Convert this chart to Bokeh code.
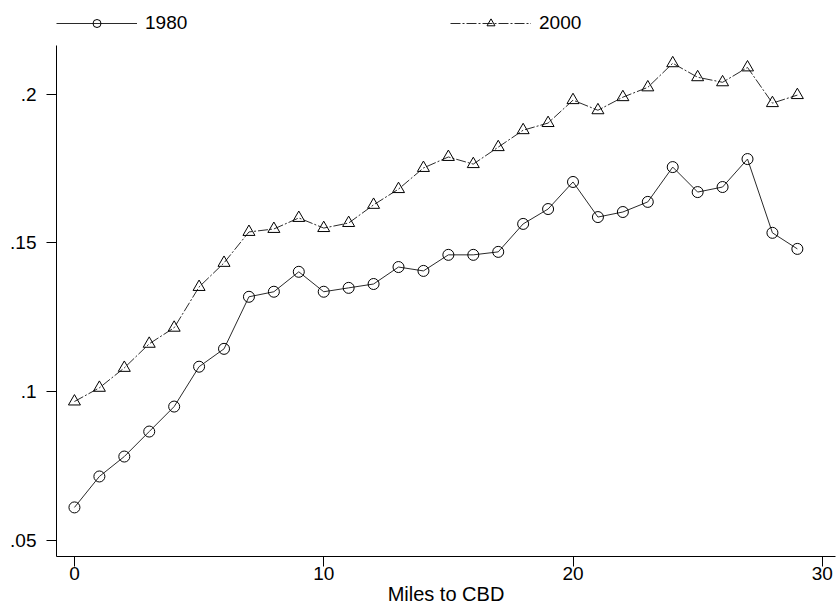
from bokeh.plotting import figure
from bokeh.models import Range1d, FixedTicker, Legend, LegendItem, ColumnDataSource
from bokeh.embed import file_html
from bokeh.resources import INLINE

miles = list(range(30))
share_1980 = [0.0611, 0.0715, 0.0782, 0.0866, 0.0950, 0.1084, 0.1144, 0.1319, 0.1336, 0.1403,
              0.1336, 0.1349, 0.1362, 0.1419, 0.1406, 0.1460, 0.1460, 0.1470, 0.1564, 0.1614,
              0.1705, 0.1587, 0.1604, 0.1638, 0.1755, 0.1671, 0.1688, 0.1782, 0.1534, 0.1480]
share_2000 = [0.0967, 0.1013, 0.1080, 0.1161, 0.1215, 0.1352, 0.1433, 0.1537, 0.1547, 0.1584,
              0.1550, 0.1567, 0.1628, 0.1681, 0.1752, 0.1789, 0.1765, 0.1822, 0.1879, 0.1903,
              0.1980, 0.1946, 0.1990, 0.2023, 0.2104, 0.2057, 0.2040, 0.2090, 0.1970, 0.1997]
series_names = ["1980", "2000"]
x_ticks = [0, 10, 20, 30]
y_ticks = [0.05, 0.1, 0.15, 0.2]
y_tick_labels = [".05", ".1", ".15", ".2"]
x_label = "Miles to CBD"

FONT = "Liberation Sans"
INK = "#000000"
LINE = "#2a2a2a"

Y_MIN, Y_AXIS_TOP, Y_MAX = 0.0446, 0.2164, 0.2315

p = figure(width=839, height=607, output_backend="svg", toolbar_location=None,
           x_range=Range1d(-0.72, 30.53), y_range=Range1d(Y_MIN, Y_MAX),
           min_border_left=56, min_border_right=4, min_border_top=0, min_border_bottom=50)
p.outline_line_color = None
p.grid.visible = False
p.background_fill_color = "white"
p.border_fill_color = "white"

src = ColumnDataSource(dict(x=miles, a=share_1980, b=share_2000))
l1 = p.line("x", "a", source=src, line_color=LINE, line_width=1)
m1 = p.scatter("x", "a", source=src, marker="circle", size=11, fill_color=None,
               line_color=INK, line_width=1)
l2 = p.line("x", "b", source=src, line_color=LINE, line_width=1, line_dash="10 2 2 2")
m2 = p.scatter("x", "b", source=src, marker="triangle", size=12, fill_color=None,
               line_color=INK, line_width=1)

for ax in (p.xaxis[0], p.yaxis[0]):
    ax.axis_line_color = INK
    ax.axis_line_width = 1
    ax.major_tick_line_color = INK
    ax.major_tick_in = 0
    ax.major_tick_out = 10
    ax.minor_tick_line_color = None
    ax.major_label_text_font = FONT
    ax.major_label_text_font_size = "19px"
    ax.major_label_text_color = INK
    ax.axis_label_text_font = FONT
    ax.axis_label_text_font_style = "normal"
    ax.axis_label_text_color = INK

p.xaxis.ticker = FixedTicker(ticks=x_ticks)
p.xaxis.axis_label = x_label
p.xaxis.axis_label_text_font_size = "20px"
p.xaxis.major_label_standoff = 0
p.xaxis.axis_label_standoff = 0

p.yaxis.ticker = FixedTicker(ticks=y_ticks)
p.yaxis.bounds = (Y_MIN, Y_AXIS_TOP)
p.yaxis.major_label_overrides = {t: s for t, s in zip(y_ticks, y_tick_labels)}
p.yaxis.major_label_orientation = "horizontal"
p.yaxis.major_label_standoff = 10

legend = Legend(items=[LegendItem(label=series_names[0], renderers=[l1, m1]),
                       LegendItem(label=series_names[1], renderers=[l2, m2])],
                orientation="horizontal", location=(0, 522),
                glyph_width=81, glyph_height=20, label_standoff=8,
                label_width=300, spacing=5, padding=0, margin=0,
                label_text_font=FONT, label_text_font_size="19px", label_text_color=INK,
                border_line_color=None, background_fill_alpha=0)
p.add_layout(legend, "center")

open("out.html", "w").write(file_html(p, INLINE))
